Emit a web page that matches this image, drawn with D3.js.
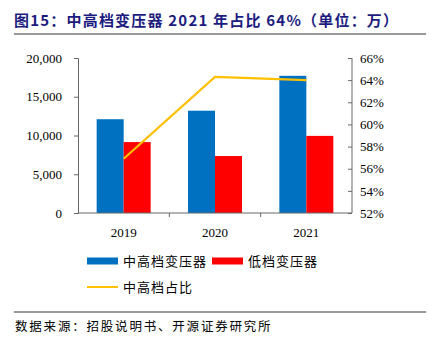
<!DOCTYPE html>
<html>
<head>
<meta charset="utf-8">
<script src="https://cdn.jsdelivr.net/npm/d3@7"></script>
<style>
  body { margin: 0; background: #fff; }
  svg { display: block; }
  .tick text { font-family: "Liberation Serif", "Times New Roman", serif; font-size: 13px; fill: #000; }
  .cjk { font-family: "Noto Sans CJK SC", sans-serif; }
</style>
</head>
<body>
<div id="chart"></div>
<script>
// chart data
const years = ["2019", "2020", "2021"];
const midHigh = [12100, 13200, 17700];   // 中高档变压器
const low = [9150, 7350, 9950];          // 低档变压器
const share = [56.9, 64.3, 64.0];        // 中高档占比 (%)
const leftTicks = [0, 5000, 10000, 15000, 20000];
const rightTicks = [52, 54, 56, 58, 60, 62, 64, 66];

const W = 433, H = 348;
const margin = {top: 58, right: 81, bottom: 135, left: 78};
const width = W - margin.left - margin.right;
const height = H - margin.top - margin.bottom;

const svg = d3.select("#chart").append("svg")
    .attr("width", W)
    .attr("height", H);

// title + rule
svg.append("text")
    .attr("class", "cjk")
    .attr("x", 14).attr("y", 26)
    .attr("font-size", 15).attr("font-weight", "bold")
    .attr("letter-spacing", 1.2)
    .attr("fill", "#1c1c80")
    .text("图15：中高档变压器 2021 年占比 64%（单位：万）");
svg.append("line")
    .attr("x1", 14).attr("x2", 426).attr("y1", 34).attr("y2", 34)
    .attr("stroke", "#999").attr("stroke-width", 2);

const g = svg.append("g")
    .attr("transform", "translate(" + margin.left + "," + margin.top + ")");

// scales
const x = d3.scaleBand().domain(years).range([0, width]);
const xInner = d3.scaleBand().domain(["a", "b"]).range([0, 54]);
const yL = d3.scaleLinear().domain([0, 20000]).range([height, 0]);
const yR = d3.scaleLinear().domain([52, 66]).range([height, 0]);

// bars
const groups = g.selectAll(".grp")
    .data(years)
    .join("g")
    .attr("class", "grp")
    .attr("transform", d => "translate(" + (x(d) + (x.bandwidth() - 54) / 2) + ",0)");

groups.append("rect")
    .attr("x", xInner("a"))
    .attr("width", xInner.bandwidth())
    .attr("y", (d, i) => yL(midHigh[i]))
    .attr("height", (d, i) => height - yL(midHigh[i]))
    .attr("fill", "#0070c0");

groups.append("rect")
    .attr("x", xInner("b"))
    .attr("width", xInner.bandwidth())
    .attr("y", (d, i) => yL(low[i]))
    .attr("height", (d, i) => height - yL(low[i]))
    .attr("fill", "#ff0000");

// axes
const leftAxis = d3.axisLeft(yL).tickValues(leftTicks).tickSize(4).tickPadding(12)
    .tickFormat(d3.format(","));
g.append("g").call(leftAxis)
    .call(s => s.selectAll(".domain, .tick line").attr("stroke", "#666"));

const rightAxis = d3.axisRight(yR).tickValues(rightTicks).tickSize(-4).tickPadding(8)
    .tickFormat(d => d + "%");
g.append("g")
    .attr("transform", "translate(" + width + ",0)")
    .call(rightAxis)
    .call(s => s.select(".domain").attr("d", "M0,0V" + height))
    .call(s => s.selectAll(".domain, .tick line").attr("stroke", "#666"));

// bottom axis, ticks between categories
const bottom = g.append("g").attr("transform", "translate(0," + height + ")");
bottom.append("line").attr("x1", 0).attr("x2", width).attr("stroke", "#666");
bottom.selectAll(".sep")
    .data(years.slice(1))
    .join("line")
    .attr("x1", d => x(d)).attr("x2", d => x(d))
    .attr("y1", 0).attr("y2", 4)
    .attr("stroke", "#666");
bottom.selectAll(".lbl")
    .data(years)
    .join("text")
    .attr("x", d => x(d) + x.bandwidth() / 2)
    .attr("y", 24)
    .attr("text-anchor", "middle")
    .attr("font-family", "Liberation Serif, serif")
    .attr("font-size", 13)
    .text(d => d);

// share line
const line = d3.line()
    .x((d, i) => x(years[i]) + x.bandwidth() / 2)
    .y(d => yR(d));
g.append("path")
    .datum(share)
    .attr("d", line)
    .attr("fill", "none")
    .attr("stroke", "#ffc000")
    .attr("stroke-width", 2.2);

// legend
const legend = svg.append("g").attr("class", "cjk")
    .attr("font-size", 13).attr("letter-spacing", 1);
const legItems = [
    {label: "中高档变压器", color: "#0070c0", type: "rect", x: 87, y: 261},
    {label: "低档变压器", color: "#ff0000", type: "rect", x: 212, y: 261},
    {label: "中高档占比", color: "#ffc000", type: "line", x: 87, y: 287}
];
legItems.forEach(it => {
    if (it.type === "rect") {
        legend.append("rect").attr("x", it.x).attr("y", it.y - 3.5)
            .attr("width", 31).attr("height", 7).attr("fill", it.color);
    } else {
        legend.append("line").attr("x1", it.x).attr("x2", it.x + 31)
            .attr("y1", it.y).attr("y2", it.y)
            .attr("stroke", it.color).attr("stroke-width", 2);
    }
    legend.append("text").attr("x", it.x + 36).attr("y", it.y + 4.5)
        .attr("fill", "#000").text(it.label);
});

// footer
svg.append("line")
    .attr("x1", 14).attr("x2", 426).attr("y1", 312).attr("y2", 312)
    .attr("stroke", "#333").attr("stroke-width", 1);
svg.append("text")
    .attr("class", "cjk")
    .attr("x", 15).attr("y", 331)
    .attr("font-size", 12.5).attr("letter-spacing", 1.8).attr("fill", "#000")
    .text("数据来源：招股说明书、开源证券研究所");
</script>
</body>
</html>
